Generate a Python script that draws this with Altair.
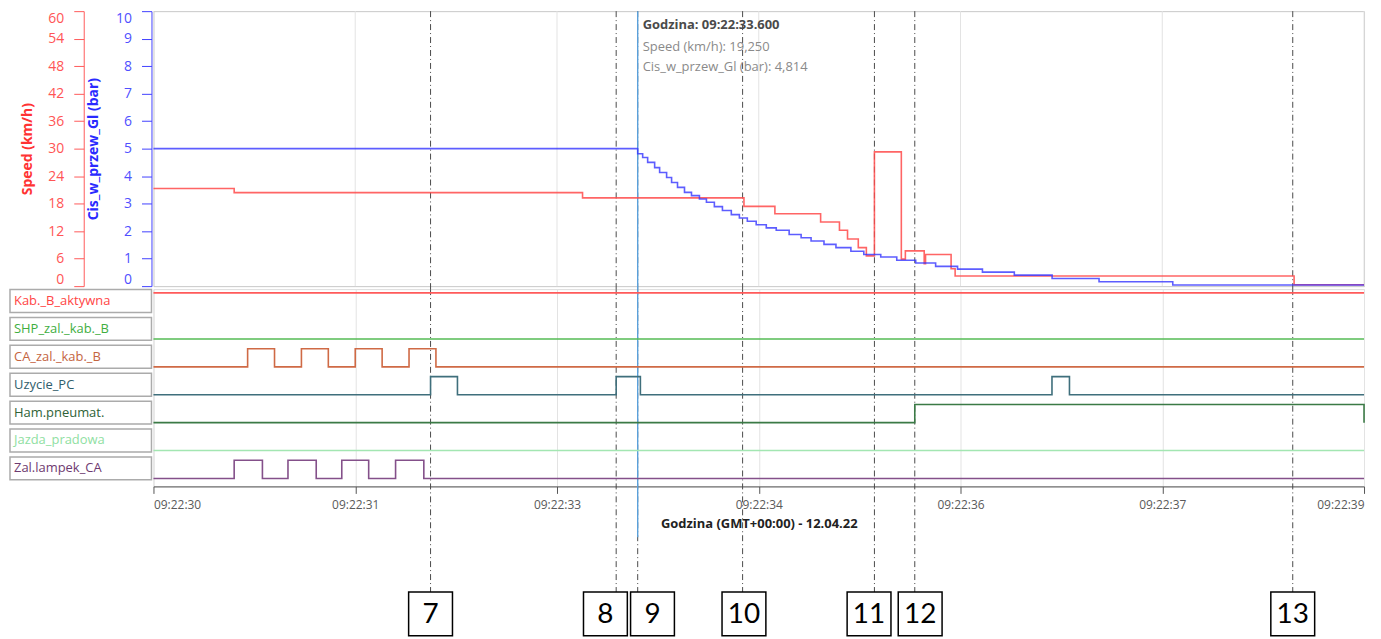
import altair as alt
import pandas as pd

# ---------------- data ----------------
x_domain = [30.0, 39.0]
tick_vals = [30.0, 31.5, 33.0, 34.5, 36.0, 37.5, 39.0]
tick_labels = ["09:22:30", "09:22:31", "09:22:33", "09:22:34", "09:22:36", "09:22:37", "09:22:39"]
x_title = "Godzina (GMT+00:00) - 12.04.22"

speed_t = [30.0, 30.60, 33.19, 34.39, 34.62, 34.96, 35.10, 35.16, 35.24, 35.30, 35.36,
           35.56, 35.59, 35.73, 35.74, 35.93, 35.96, 38.48, 39.0]
speed_v = [21.3, 20.4, 19.25, 17.4, 15.8, 14.0, 12.2, 10.3, 8.4, 6.6, 29.3,
           5.9, 7.7, 4.9, 6.9, 3.8, 2.2, 0.3, 0.3]

press_t = [30.0, 33.6, 33.637, 33.674, 33.726, 33.763, 33.815, 33.852, 33.896, 33.948, 34.0,
           34.059, 34.111, 34.170, 34.230, 34.296, 34.356, 34.415, 34.481, 34.556, 34.630,
           34.726, 34.815, 34.889, 34.985, 35.074, 35.185, 35.281, 35.407, 35.526, 35.667,
           35.815, 35.978, 36.163, 36.400, 36.681, 37.030, 37.578, 39.0]
press_v = [5.0, 4.814, 4.68, 4.50, 4.31, 4.13, 3.95, 3.77, 3.59, 3.41, 3.29,
           3.17, 3.05, 2.89, 2.75, 2.60, 2.48, 2.36, 2.23, 2.12, 2.03,
           1.88, 1.76, 1.64, 1.52, 1.40, 1.27, 1.15, 1.06, 0.94, 0.84,
           0.72, 0.62, 0.51, 0.40, 0.28, 0.16, 0.04, 0.04]

signals = ["Kab._B_aktywna", "SHP_zal._kab._B", "CA_zal._kab._B", "Uzycie_PC",
           "Ham.pneumat.", "Jazda_pradowa", "Zal.lampek_CA"]
line_colors = ["#FF5A5A", "#55BB55", "#CF6A45", "#3F6F7C", "#3B7A46", "#A3E6B2", "#84508A"]
label_colors = ["#FF4545", "#3FAE3F", "#C4643F", "#2F5D6B", "#2E6236", "#8FE0A2", "#6E3A70"]

kab_t, kab_s = [30.0, 39.0], [1, 1]
shp_t, shp_s = [30.0, 39.0], [0, 0]
ca_t = [30.0, 30.70, 30.90, 31.10, 31.30, 31.50, 31.70, 31.90, 32.10, 39.0]
ca_s = [0, 1, 0, 1, 0, 1, 0, 1, 0, 0]
pc_t = [30.0, 32.06, 32.26, 33.44, 33.62, 36.68, 36.81, 39.0]
pc_s = [0, 1, 0, 1, 0, 1, 0, 0]
ham_t, ham_s = [30.0, 35.66, 39.0], [0, 1, 0]
jaz_t, jaz_s = [30.0, 39.0], [0, 0]
zal_t = [30.0, 30.60, 30.81, 31.00, 31.21, 31.40, 31.60, 31.80, 32.01, 39.0]
zal_s = [0, 1, 0, 1, 0, 1, 0, 1, 0, 0]

marker_t = [32.06, 33.44, 33.6, 34.38, 35.36, 35.66, 38.47]
marker_labels = ["7", "8", "9", "10", "11", "12", "13"]
box_t = [32.06, 33.36, 33.71, 34.39, 35.32, 35.70, 38.47]
cursor_t = [33.6]
tip_lines = ["Godzina: 09:22:33.600", "Speed (km/h): 19,250", "Cis_w_przew_Gl (bar): 4,814"]

# ---------------- layout ----------------
W, HA, HB = 1215, 276, 198
GAP = 3
FONT = "Open Sans"

xs = alt.Scale(domain=x_domain, nice=False, zero=False)
label_expr = "[" + ",".join(f"'{l}'" for l in tick_labels) + "][round((datum.value - 30) / 1.5)]"

xaxis_B = alt.Axis(values=tick_vals, labelExpr=label_expr, labelFlush=True, grid=True,
                   gridColor="#E3E3E3", title=x_title, tickSize=7, tickColor="#555555",
                   domainColor="#555555", labelColor="#5A5A5A", labelFont=FONT, labelFontSize=12,
                   labelPadding=6, titleFont=FONT, titleFontSize=13, titleFontWeight="bold",
                   titleColor="#222222", titlePadding=7)

# ---------- top panel ----------
speed_df = pd.DataFrame({"t": speed_t, "v": speed_v})
press_df = pd.DataFrame({"t": press_t, "p": press_v})
mk_df = pd.DataFrame({"t": marker_t})
cur_df = pd.DataFrame({"t": cursor_t})
grid_df = pd.DataFrame({"t": tick_vals})

XA = alt.X("t:Q", scale=xs, axis=None)

gridA = alt.Chart(grid_df).mark_rule(color="#E3E3E3", strokeWidth=1).encode(
    x=XA, y=alt.value(0), y2=alt.value(HA))

speed = alt.Chart(speed_df).mark_line(interpolate="step-after", color="#FF4A4A",
                                      strokeWidth=1.6, opacity=0.85).encode(
    x=XA,
    y=alt.Y("v:Q", scale=alt.Scale(domain=[0, 60], nice=False),
            axis=alt.Axis(orient="left", offset=70, values=list(range(0, 61, 6)),
                          title="Speed (km/h)", labelFlush=True, tickSize=10, labelPadding=10,
                          domainColor="#FF5A5A", tickColor="#FF5A5A", labelColor="#FF5555",
                          titleColor="#FF3333", labelFont=FONT, labelFontSize=14,
                          titleFont=FONT, titleFontSize=14, titleFontWeight="bold",
                          titlePadding=13, grid=False)),
)

press = alt.Chart(press_df).mark_line(interpolate="step-after", color="#3535FF",
                                      strokeWidth=1.6, opacity=0.8).encode(
    x=XA,
    y=alt.Y("p:Q", scale=alt.Scale(domain=[0, 10], nice=False),
            axis=alt.Axis(orient="left", offset=2, values=list(range(0, 11)),
                          title="Cis_w_przew_Gl (bar)", labelFlush=True, tickSize=10,
                          labelPadding=10, domainColor="#4040FF", tickColor="#4040FF",
                          labelColor="#5050FF", titleColor="#2A2AFF", labelFont=FONT,
                          labelFontSize=14, titleFont=FONT, titleFontSize=14,
                          titleFontWeight="bold", titlePadding=15, grid=False)),
)

rulesA = alt.Chart(mk_df).mark_rule(color="#4A4A4A", strokeDash=[6, 3, 1, 3], strokeWidth=1).encode(
    x=XA, y=alt.value(0), y2=alt.value(HA + GAP))
cursorA = alt.Chart(cur_df).mark_rule(color="#5AA0DA", strokeWidth=1.4).encode(
    x=XA, y=alt.value(0), y2=alt.value(HA + GAP))

tips = []
for i, (txt, yy) in enumerate(zip(tip_lines, [14, 36, 56])):
    tdf = pd.DataFrame({"t": cursor_t, "txt": [txt]})
    tips.append(alt.Chart(tdf).mark_text(
        align="left", baseline="middle", dx=5, font=FONT, fontSize=13,
        fontWeight="bold" if i == 0 else "normal",
        color="#4A4A4A" if i == 0 else "#8A8A8A").encode(
        x=XA, y=alt.value(yy), text="txt:N"))

top = alt.layer(gridA, rulesA, cursorA, speed, press, *tips).resolve_scale(y="independent").properties(
    width=W, height=HA, view=alt.ViewBackground(stroke="#C8C8C8"))

# ---------- digital panel ----------
ys = alt.Scale(domain=[-0.286, 6.786], nice=False, zero=False)
sig_series = [(kab_t, kab_s), (shp_t, shp_s), (ca_t, ca_s), (pc_t, pc_s),
              (ham_t, ham_s), (jaz_t, jaz_s), (zal_t, zal_s)]
rows = []
for k, (name, (ts, ss)) in enumerate(zip(signals, sig_series)):
    r = len(signals) - 1 - k
    for t, s in zip(ts, ss):
        rows.append({"signal": name, "t": t, "y": r + 0.65 * s})
sig_df = pd.DataFrame(rows)

lab_df = pd.DataFrame({"signal": signals, "row": [len(signals) - 1 - k for k in range(len(signals))]})

lines = alt.Chart(sig_df).mark_line(interpolate="step-after", strokeWidth=1.6).encode(
    x=alt.X("t:Q", scale=xs, axis=xaxis_B),
    y=alt.Y("y:Q", scale=ys, axis=None),
    color=alt.Color("signal:N", scale=alt.Scale(domain=signals, range=line_colors), legend=None),
    detail="signal:N",
)

lab_rect = alt.Chart(lab_df).transform_calculate(
    y0="datum.row - 0.05", y1="datum.row + 0.77").mark_rect(
    fill="white", stroke="#ABABAB", strokeWidth=1.5).encode(
    x=alt.value(-144), x2=alt.value(-2),
    y=alt.Y("y0:Q", scale=ys, axis=None), y2="y1:Q")

lab_text = alt.Chart(lab_df).transform_calculate(ym="datum.row + 0.36").mark_text(
    align="left", baseline="middle", font=FONT, fontSize=13).encode(
    x=alt.value(-140), y=alt.Y("ym:Q", scale=ys, axis=None), text="signal:N",
    color=alt.Color("signal:N", scale=alt.Scale(domain=signals, range=label_colors), legend=None))

rulesB = alt.Chart(mk_df).mark_rule(color="#4A4A4A", strokeDash=[6, 3, 1, 3], strokeWidth=1).encode(
    x=alt.X("t:Q", scale=xs, axis=xaxis_B), y=alt.value(0), y2=alt.value(HB + 106))
cursorB = alt.Chart(cur_df).mark_rule(color="#5AA0DA", strokeWidth=1.4).encode(
    x=alt.X("t:Q", scale=xs, axis=xaxis_B), y=alt.value(0), y2=alt.value(HB + 51))

box_df = pd.DataFrame({"t": box_t, "lab": marker_labels})
box_rect = alt.Chart(box_df).mark_rect(fill="white", stroke="black", strokeWidth=1.5,
                                       xOffset=-22, x2Offset=22).encode(
    x=alt.X("t:Q", scale=xs, axis=xaxis_B), x2="t:Q",
    y=alt.value(HB + 106), y2=alt.value(HB + 150))
box_text = alt.Chart(box_df).mark_text(font="Lato", fontSize=28, baseline="middle",
                                       color="black").encode(
    x=alt.X("t:Q", scale=xs, axis=xaxis_B), y=alt.value(HB + 129), text="lab:N")

bottom = alt.layer(rulesB, cursorB, box_rect, box_text, lab_rect, lab_text, lines).resolve_scale(
    color="independent").properties(width=W, height=HB)

chart = alt.vconcat(top, bottom, spacing=GAP, bounds="flush").properties(
    padding={"left": 0, "top": 0, "right": 5, "bottom": 0}
).configure_view(stroke="transparent").configure(font=FONT)

chart.save("out.html", embed_options={"renderer": "svg", "actions": False})
